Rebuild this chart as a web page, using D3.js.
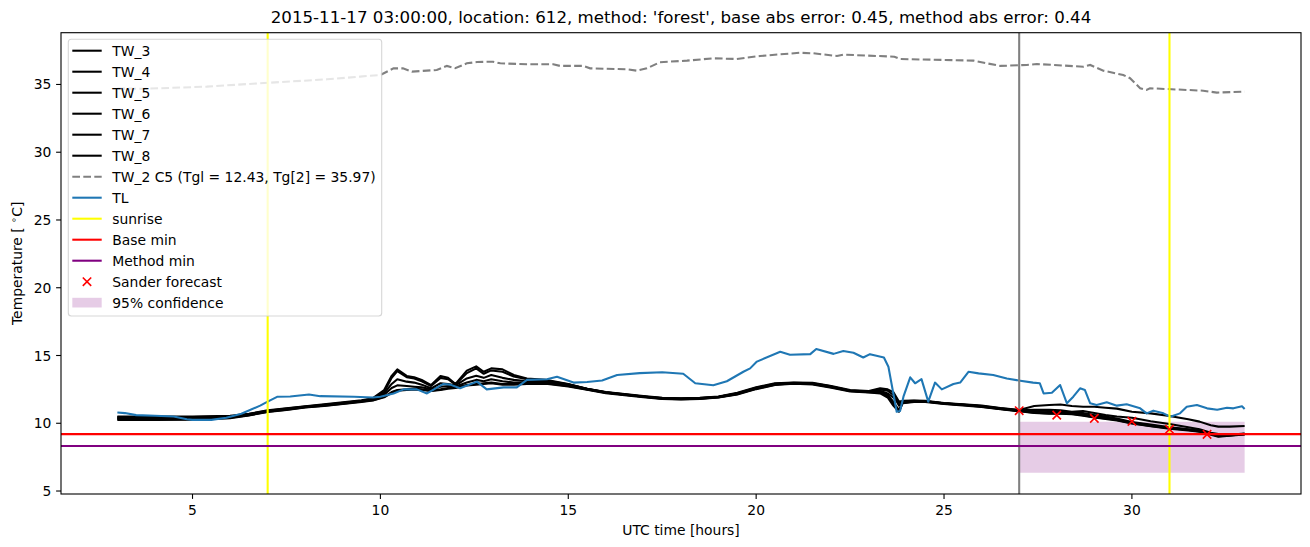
<!DOCTYPE html>
<html><head><meta charset="utf-8">
<script src="https://cdn.jsdelivr.net/npm/d3@7"></script>
<style>body{margin:0;background:#fff} text{font-family:"DejaVu Sans",sans-serif;fill:#000}</style>
</head><body><svg id="c" width="1310" height="547"></svg>
<script>
// ---------- data ----------
const titleText = "2015-11-17 03:00:00, location: 612, method: 'forest', base abs error: 0.45, method abs error: 0.44";
const xTicks = [5, 10, 15, 20, 25, 30];
const yTicks = [5, 10, 15, 20, 25, 30, 35];

const twTimes = [3,4,5,6,6.5,7,7.5,8,8.5,9,9.5,9.8,10.1,10.3,10.45,10.7,10.9,11.1,11.35,11.6,11.8,12.0,12.3,12.55,12.75,12.95,13.25,13.55,13.9,14.4,15.0,15.5,16.0,16.5,17.0,17.5,18.0,18.5,19.0,19.5,20.0,20.5,21.0,21.5,22.0,22.5,23.0,23.3,23.5,23.65,23.8,23.9,24.2,24.5,25.0,25.5,26.0,26.5,27.0,27.4,27.8,28.1,28.4,28.7,29.0,29.3,29.6,30.0,30.5,31.0,31.5,31.8,32.1,32.3,32.6,33.0];
const tw3 = [10.5,10.5,10.5,10.55,10.7,10.95,11.1,11.25,11.4,11.55, 11.7,11.85,12.45,13.5,13.98,13.49,13.4,13.2,12.82,13.49, 13.35,12.9,13.88,14.2,13.8,14.05,13.98,13.56,13.3,13.2, 12.9,12.55,12.3,12.15,12.0,11.88,11.85,11.88,11.98,12.25, 12.65,12.95,13.0,12.98,12.75,12.45,12.38,12.58,12.5,12.3, 11.6,11.65,11.68,11.65,11.5,11.4,11.3,11.12,10.98,11.27, 11.35,11.38,11.27,11.22,11.22,11.15,11.08,10.85,10.73,10.53, 10.29,10.12,9.85,9.75,9.75,9.8];
const tw4 = [10.45,10.45,10.45,10.5,10.68,10.92,11.08,11.23,11.37,11.52, 11.66,11.8,12.3,13.35,13.85,13.4,13.3,13.1,12.75,13.35, 13.25,12.85,13.7,14.05,13.65,13.9,13.8,13.45,13.25,13.15, 12.88,12.52,12.28,12.13,11.98,11.86,11.83,11.86,11.96,12.22, 12.62,12.92,12.98,12.95,12.72,12.42,12.35,12.5,12.4,12.1, 11.3,11.62,11.66,11.63,11.48,11.38,11.28,11.1,10.96,11.0, 11.0,10.95,10.85,10.9,10.75,10.6,10.5,10.4,10.15,9.95, 9.7,9.55,9.3,9.2,9.15,9.25];
const tw5 = [10.35,10.35,10.35,10.45,10.62,10.88,11.04,11.2,11.33,11.48, 11.63,11.76,12.2,12.9,13.25,13.07,13.0,12.85,12.58,12.95, 12.9,12.8,13.31,13.5,13.35,13.56,13.35,13.2,13.1,13.1, 12.85,12.55,12.28,12.12,11.97,11.84,11.8,11.84,11.95,12.2, 12.6,12.9,12.97,12.93,12.7,12.4,12.32,12.3,12.1,11.6, 10.9,11.55,11.62,11.6,11.46,11.36,11.25,11.07,10.92,10.85, 10.8,10.78,10.72,10.65,10.5,10.4,10.28,10.05,9.85,9.68, 9.53,9.42,9.22,9.08,9.12,9.2];
const tw6 = [10.3,10.3,10.3,10.4,10.6,10.85,11.0,11.18,11.3,11.45, 11.6,11.7,11.95,12.3,12.45,12.5,12.55,12.5,12.4,12.5, 12.6,12.65,12.82,12.9,12.95,13.0,12.9,12.9,12.95,12.95, 12.75,12.5,12.25,12.1,11.95,11.82,11.78,11.82,11.92,12.15, 12.55,12.85,12.95,12.9,12.65,12.38,12.3,12.25,12.0,11.45, 11.0,11.5,11.6,11.6,11.45,11.35,11.22,11.05,10.9,10.78, 10.73,10.73,10.7,10.6,10.45,10.35,10.24,10.0,9.8,9.63, 9.5,9.4,9.2,9.05,9.1,9.2];
const tw7 = [10.25,10.25,10.27,10.38,10.58,10.83,10.98,11.16,11.28,11.43, 11.58,11.68,11.92,12.25,12.4,12.45,12.5,12.45,12.38,12.45, 12.55,12.6,12.78,12.85,12.9,12.95,12.85,12.85,12.9,12.92, 12.72,12.47,12.22,12.07,11.93,11.8,11.75,11.8,11.9,12.12, 12.52,12.82,12.92,12.87,12.62,12.35,12.27,12.2,11.9,11.3, 10.85,11.48,11.58,11.58,11.43,11.32,11.2,11.03,10.88,10.76, 10.7,10.7,10.66,10.56,10.42,10.32,10.2,9.98,9.78,9.6, 9.47,9.37,9.15,9.0,9.08,9.18];
const tw8 = [10.4,10.4,10.4,10.48,10.65,10.9,11.05,11.22,11.35,11.5, 11.65,11.78,12.1,12.6,12.8,12.75,12.7,12.65,12.5,12.7, 12.75,12.72,13.0,13.2,13.1,13.25,13.1,13.0,13.0,13.0, 12.8,12.52,12.27,12.11,11.96,11.83,11.8,11.83,11.93,12.18, 12.58,12.88,12.96,12.92,12.68,12.4,12.33,12.4,12.2,11.9, 11.5,11.6,11.64,11.62,11.47,11.37,11.26,11.08,10.93,10.92, 10.9,10.88,10.8,10.75,10.6,10.5,10.35,10.1,9.9,9.7, 9.55,9.45,9.25,9.1,9.14,9.22];
const twNames = ["TW_3","TW_4","TW_5","TW_6","TW_7","TW_8"];

const tw2Times = [3.0,3.7,5.38,6.8,8.58,9.46,10.0,10.35,10.6,10.84,11.5,11.77,11.99,12.3,12.57,13.0,13.19,13.9,14.6,14.78,15.4,15.58,16.56,16.82,17.09,17.44,18.16,18.86,19.48,20.1,21.16,21.52,22.15,22.32,23.68,23.83,25.78,26.14,26.5,27.2,27.47,28.71,28.89,29.24,29.77,29.95,30.22,30.39,30.48,31.9,32.26,33.0];
const tw2Values = [34.7,34.68,34.84,35.09,35.38,35.58,35.7,36.19,36.19,35.95,36.07,36.37,36.2,36.56,36.66,36.68,36.56,36.49,36.49,36.37,36.37,36.19,36.12,36.02,36.19,36.64,36.76,36.93,36.88,37.1,37.34,37.3,37.1,37.2,37.05,36.88,36.76,36.56,36.37,36.44,36.51,36.31,36.44,36.02,35.7,35.46,34.72,34.6,34.72,34.54,34.4,34.47];
const tw2Label = "TW_2 C5 (Tgl = 12.43, Tg[2] = 35.97)";

const tlTimes = [3.0,3.2,3.5,4.0,4.5,4.85,5.0,5.5,5.9,6.3,6.8,7.0,7.25,7.6,8.1,8.4,9.3,9.8,10.0,10.35,10.62,10.97,11.24,11.68,11.86,12.12,12.57,12.83,13.28,13.63,13.9,14.43,14.7,15.14,15.5,15.9,16.3,16.9,17.5,18.06,18.38,18.86,19.22,19.66,19.84,20.02,20.64,20.9,21.44,21.6,22.06,22.32,22.59,22.85,23.03,23.4,23.52,23.74,23.83,23.92,24.1,24.23,24.4,24.58,24.76,24.94,25.25,25.43,25.65,25.92,26.31,26.67,27.03,27.37,27.55,27.65,27.87,28.09,28.27,28.44,28.62,28.75,28.89,29.06,29.33,29.6,29.86,30.22,30.39,30.57,30.84,31.02,31.28,31.46,31.73,32.0,32.27,32.53,32.7,32.93,33.0];
const tlValues = [10.8,10.75,10.6,10.55,10.5,10.3,10.25,10.25,10.4,10.7,11.3,11.6,11.95,11.97,12.12,12.0,11.95,11.9,11.95,12.2,12.5,12.5,12.2,12.9,12.85,12.58,13.07,12.5,12.65,12.65,13.2,13.25,13.43,13.0,13.05,13.15,13.56,13.7,13.77,13.65,12.95,12.8,13.1,13.8,14.05,14.55,15.28,15.05,15.1,15.48,15.12,15.33,15.2,14.85,15.1,14.85,14.17,10.85,10.9,11.96,13.39,12.95,13.26,11.6,13.0,12.5,12.9,13.0,13.8,13.68,13.56,13.3,13.14,13.0,12.95,12.2,12.25,12.82,11.47,11.96,12.58,12.45,11.47,11.35,11.55,11.3,11.4,11.1,10.73,10.93,10.73,10.48,10.73,11.22,11.35,11.1,11.0,11.15,11.1,11.25,11.05];

const sunriseTimes = [7, 31];
const forecastStart = 27;
const baseMin = 9.2;
const methodMin = 8.32;
const sanderTimes = [27, 28, 29, 30, 31, 32];
const sanderValues = [10.93, 10.6, 10.36, 10.14, 9.55, 9.18];
const confTimes = [27, 33];
const confLow = [6.35, 6.35];
const confHigh = [10.12, 10.12];

const legendLabels = ["TW_3","TW_4","TW_5","TW_6","TW_7","TW_8", tw2Label, "TL","sunrise","Base min","Method min","Sander forecast","95% confidence"];

// ---------- drawing ----------
const svg = d3.select("#c");
const L = 61, R = 1301, T = 32.7, B = 494;
const x = d3.scaleLinear().domain([1.5, 34.5]).range([L, R]);
const y = d3.scaleLinear().domain([4.78, 38.82]).range([B, T]);

svg.append("rect").attr("width",1310).attr("height",547).attr("fill","#fff");
svg.append("defs").append("clipPath").attr("id","clip")
  .append("rect").attr("x",L).attr("y",T).attr("width",R-L).attr("height",B-T);
const g = svg.append("g").attr("clip-path","url(#clip)");

// confidence fill
const area = d3.area().x((d,i)=>x(confTimes[i])).y0((d,i)=>y(confLow[i])).y1((d,i)=>y(confHigh[i]));
g.append("path").datum(confTimes).attr("d", area).attr("fill","purple").attr("fill-opacity",0.2);

const line = (ts, vs) => d3.line().x((d,i)=>x(ts[i])).y((d,i)=>y(vs[i]))(vs);

[tw3,tw4,tw5,tw6,tw7,tw8].forEach(s=>{
  g.append("path").attr("d", line(twTimes, s)).attr("fill","none").attr("stroke","#000")
   .attr("stroke-width",2.08).attr("stroke-linejoin","round").attr("stroke-linecap","butt");
});
g.append("path").attr("d", line(tw2Times, tw2Values)).attr("fill","none").attr("stroke","#808080")
  .attr("stroke-width",2.08).attr("stroke-dasharray","7.7,3.3");
g.append("path").attr("d", line(tlTimes, tlValues)).attr("fill","none").attr("stroke","#1f77b4")
  .attr("stroke-width",2.08).attr("stroke-linejoin","round");

sunriseTimes.forEach(t=>{
  g.append("line").attr("x1",x(t)).attr("x2",x(t)).attr("y1",T).attr("y2",B).attr("stroke","yellow").attr("stroke-width",2.08);
});
g.append("line").attr("x1",x(forecastStart)).attr("x2",x(forecastStart)).attr("y1",T).attr("y2",B).attr("stroke","#808080").attr("stroke-width",2.08);
g.append("line").attr("x1",L).attr("x2",R).attr("y1",y(baseMin)).attr("y2",y(baseMin)).attr("stroke","red").attr("stroke-width",2.08);
g.append("line").attr("x1",L).attr("x2",R).attr("y1",y(methodMin)).attr("y2",y(methodMin)).attr("stroke","purple").attr("stroke-width",2.08);

const xMark = (sel, cx, cy) => {
  const s = 4.2;
  sel.append("path").attr("d",`M${cx-s},${cy-s}L${cx+s},${cy+s}M${cx-s},${cy+s}L${cx+s},${cy-s}`)
    .attr("stroke","red").attr("stroke-width",1.6).attr("fill","none");
};
sanderTimes.forEach((t,i)=> xMark(g, x(t), y(sanderValues[i])));

// axes
const ax = svg.append("g");
ax.append("rect").attr("x",L).attr("y",T).attr("width",R-L).attr("height",B-T).attr("fill","none").attr("stroke","#000").attr("stroke-width",1.1);
xTicks.forEach(t=>{
  ax.append("line").attr("x1",x(t)).attr("x2",x(t)).attr("y1",B).attr("y2",B+4.9).attr("stroke","#000").attr("stroke-width",1.1);
  ax.append("text").attr("x",x(t)).attr("y",515).attr("text-anchor","middle").attr("font-size","13.89px").text(t);
});
yTicks.forEach(t=>{
  ax.append("line").attr("x1",L).attr("x2",L-4.9).attr("y1",y(t)).attr("y2",y(t)).attr("stroke","#000").attr("stroke-width",1.1);
  ax.append("text").attr("x",L-9.6).attr("y",y(t)).attr("dy","0.36em").attr("text-anchor","end").attr("font-size","13.89px").text(t);
});
svg.append("text").attr("x",(L+R)/2).attr("y",535).attr("text-anchor","middle").attr("font-size","13.89px").text("UTC time [hours]");
const yl = svg.append("text").attr("transform",`translate(22,${(T+B)/2}) rotate(-90)`).attr("text-anchor","middle").attr("font-size","13.89px");
yl.append("tspan").text("Temperature [ ");
yl.append("tspan").attr("font-size","9.7px").attr("dy","-5").text("∘");
yl.append("tspan").attr("dy","5").text("C]");
svg.append("text").attr("x",(L+R)/2).attr("y",22.5).attr("text-anchor","middle").attr("font-size","16.67px").text(titleText);

// legend
const lg = svg.append("g");
lg.append("rect").attr("x",68.3).attr("y",39.3).attr("width",313.4).attr("height",276.7).attr("rx",3)
  .attr("fill","#fff").attr("fill-opacity",0.8).attr("stroke","#ccc").attr("stroke-opacity",0.8).attr("stroke-width",1.1);
const hx0 = 72.3, hx1 = 101.7, tx = 112.3, ry0 = 50.7, rdy = 21.0;
legendLabels.forEach((lab,i)=>{
  const cy = ry0 + i*rdy;
  if (i < 6) {
    lg.append("line").attr("x1",hx0).attr("x2",hx1).attr("y1",cy).attr("y2",cy).attr("stroke","#000").attr("stroke-width",2.08);
  } else if (i === 6) {
    lg.append("line").attr("x1",hx0).attr("x2",hx1).attr("y1",cy).attr("y2",cy).attr("stroke","#808080").attr("stroke-width",2.08).attr("stroke-dasharray","7.7,3.3");
  } else if (i <= 10) {
    const col = ["#1f77b4","yellow","red","purple"][i-7];
    lg.append("line").attr("x1",hx0).attr("x2",hx1).attr("y1",cy).attr("y2",cy).attr("stroke",col).attr("stroke-width",2.08);
  } else if (i === 11) {
    xMark(lg, (hx0+hx1)/2, cy);
  } else {
    lg.append("rect").attr("x",hx0).attr("y",cy-4.9).attr("width",hx1-hx0).attr("height",9.7).attr("fill","purple").attr("fill-opacity",0.2);
  }
  lg.append("text").attr("x",tx).attr("y",cy).attr("dy","0.36em").attr("font-size","13.89px").text(lab);
});
</script></body></html>
